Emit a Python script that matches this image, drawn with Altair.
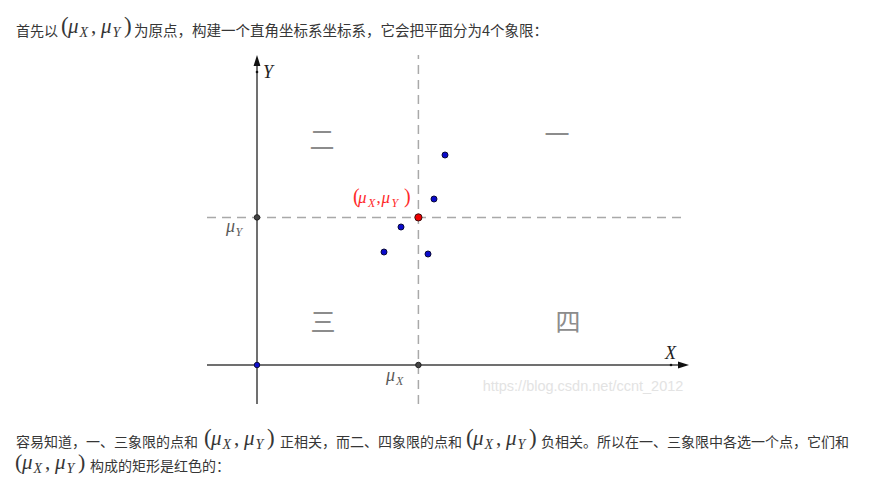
import altair as alt
import pandas as pd

# ---------------- data (diagram units) ----------------
blue_x = [9.4, 8.85, 7.2, 6.35, 8.55]
blue_y = [10.5, 8.3, 6.9, 5.65, 5.55]
mu_x = sum(blue_x) / len(blue_x)
mu_y = sum(blue_y) / len(blue_y)

quadrant_names = ["一", "二", "三", "四"]
para_top = ["首先以", "为原点，构建一个直角坐标系坐标系，它会把平面分为4个象限："]
para_l1 = ["容易知道，一、三象限的点和", "正相关，而二、四象限的点和", "负相关。所以在一、三象限中各选一个点，它们和"]
para_l2 = ["构成的矩形是红色的："]
watermark = "https://blog.csdn.net/ccnt_2012"

# ---------------- layout ----------------
W, H = 871, 494
PX0, PY0, UNIT = 257, 365, 20.0


def px2x(px):
    return (px - PX0) / UNIT


def py2y(py):
    return (PY0 - py) / UNIT


xs = alt.Scale(domain=[px2x(0), px2x(W)], nice=False, zero=False)
ys = alt.Scale(domain=[py2y(H), py2y(0)], nice=False, zero=False)

X_MIN, X_MAX = px2x(207), px2x(689)
Y_MIN, Y_MAX = py2y(404), py2y(55)


def XY(xf="x", yf="y"):
    return dict(x=alt.X(f"{xf}:Q", scale=xs, axis=None),
                y=alt.Y(f"{yf}:Q", scale=ys, axis=None))


# dashed mean lines
dash_df = pd.DataFrame([
    {"x": mu_x, "x2": mu_x, "y": Y_MIN, "y2": Y_MAX},
    {"x": X_MIN, "x2": px2x(685), "y": mu_y, "y2": mu_y},
])
dashed = alt.Chart(dash_df).mark_rule(color="#a9a9a9", strokeWidth=1.5, strokeDash=[9, 6]).encode(
    **XY(), x2="x2:Q", y2="y2:Q")

# axes
axes_df = pd.DataFrame([
    {"x": X_MIN, "x2": X_MAX - 0.3, "y": 0.0, "y2": 0.0},
    {"x": 0.0, "x2": 0.0, "y": Y_MIN, "y2": Y_MAX - 0.3},
])
axes = alt.Chart(axes_df).mark_rule(color="#707070", strokeWidth=2).encode(
    **XY(), x2="x2:Q", y2="y2:Q")

arrow_df = pd.DataFrame([
    {"x": X_MAX, "y": 0.0, "a": 90},
    {"x": 0.0, "y": Y_MAX, "a": 0},
])
arrows = alt.Chart(arrow_df).mark_point(
    shape="M0,0L0.62,2L-0.62,2Z", filled=True, color="#111111", opacity=1, size=121
).encode(**XY(), angle=alt.Angle("a:Q", scale=None))

enddot_df = pd.DataFrame([{"x": px2x(671), "y": 0.0}, {"x": 0.0, "y": py2y(72)}])
enddots = alt.Chart(enddot_df).mark_point(filled=True, color="#111111", opacity=1, size=7).encode(**XY())

gray_df = pd.DataFrame([{"x": mu_x, "y": 0.0}, {"x": 0.0, "y": mu_y}])
grays = alt.Chart(gray_df).mark_point(
    filled=True, fill="#444444", stroke="#222222", strokeWidth=1, opacity=1, size=30
).encode(**XY())

origin_df = pd.DataFrame([{"x": 0.0, "y": 0.0}])
origin = alt.Chart(origin_df).mark_point(
    filled=True, fill="#1010d0", stroke="#101040", strokeWidth=1, opacity=1, size=30
).encode(**XY())

blue_df = pd.DataFrame({"x": blue_x, "y": blue_y})
blues = alt.Chart(blue_df).mark_point(
    filled=True, fill="#0a0acc", stroke="#0a0a3a", strokeWidth=1, opacity=1, size=36
).encode(**XY())

red_df = pd.DataFrame([{"x": mu_x, "y": mu_y}])
red = alt.Chart(red_df).mark_point(
    filled=True, fill="#ee0000", stroke="#3a1010", strokeWidth=1, opacity=1, size=52
).encode(**XY())

# ---------------- texts ----------------
pieces = []
SANS = "Noto Sans CJK SC"
SERIF = "Liberation Serif"


def add(px, py, text, font, style, fs, color, align="left", baseline="alphabetic"):
    pieces.append(dict(x=px2x(px), y=py2y(py), t=text, font=font, style=style,
                       fs=fs, c=color, align=align, baseline=baseline))


def math(x0, base, sp, sm, ss, drop, offs, color):
    o = offs
    add(x0 + o[0], base, "(", SERIF, "normal", sp, color)
    add(x0 + o[1], base, "μ", SERIF, "italic", sm, color)
    add(x0 + o[2], base + drop, "X", SERIF, "italic", ss, color)
    add(x0 + o[3], base, ",", SERIF, "normal", sm, color)
    add(x0 + o[4], base, "μ", SERIF, "italic", sm, color)
    add(x0 + o[5], base + drop, "Y", SERIF, "italic", ss, color)
    add(x0 + o[6], base, ")", SERIF, "normal", sp, color)


TXT = "#363636"
OFF = [0, 7, 18.5, 30, 40, 51.5, 63]

# top line
add(16, 35.5, para_top[0], SANS, "normal", 14, TXT)
math(61, 33, 23, 21, 14, 4, OFF, TXT)
add(134, 35.5, para_top[1], SANS, "normal", 14.5, TXT)

# bottom line 1
b1 = 447
add(16, b1, para_l1[0], SANS, "normal", 14, TXT)
math(204, b1 - 2.5, 23, 21, 14, 4, OFF, TXT)
add(280, b1, para_l1[1], SANS, "normal", 14, TXT)
math(466, b1 - 2.5, 23, 21, 14, 4, OFF, TXT)
add(541, b1, para_l1[2], SANS, "normal", 14, TXT)

# bottom line 2
b2 = 471
math(15, b2 - 2, 22, 21, 14, 4, OFF, TXT)
add(90, b2, para_l2[0], SANS, "normal", 14, TXT)

# diagram labels
add(263, 78, "Y", SERIF, "italic", 18, "#222222")
add(665, 359, "X", SERIF, "italic", 18, "#222222")
LBL = "#5a5a5a"
add(226, 232, "μ", SERIF, "italic", 18, LBL)
add(235.5, 236, "Y", SERIF, "italic", 12, LBL)
add(386, 380.5, "μ", SERIF, "italic", 18, LBL)
add(396, 384.5, "X", SERIF, "italic", 12, LBL)
math(353, 203, 20, 17, 12, 3.5, [0, 5, 15, 23.5, 28.5, 38.5, 51], "#ff2a2a")

# quadrant labels
QC = "#8c8c8c"
add(557, 143.5, quadrant_names[0], SANS, "normal", 25, QC, align="center")
add(322, 149, quadrant_names[1], SANS, "normal", 25, QC, align="center")
add(323, 331, quadrant_names[2], SANS, "normal", 25, QC, align="center")
add(568, 331, quadrant_names[3], SANS, "normal", 25, QC, align="center")

# watermark
add(583, 387, watermark, "Liberation Sans", "normal", 14.5, "#e3e3e3", align="center", baseline="middle")

tdf = pd.DataFrame(pieces)
text_layers = []
for (font, style, align, baseline), g in tdf.groupby(["font", "style", "align", "baseline"]):
    text_layers.append(
        alt.Chart(g).mark_text(font=font, fontStyle=style, align=align, baseline=baseline).encode(
            **XY(), text="t:N",
            size=alt.Size("fs:Q", scale=None, legend=None),
            color=alt.Color("c:N", scale=None, legend=None),
        )
    )

chart = alt.layer(dashed, axes, arrows, enddots, grays, origin, blues, red, *text_layers).properties(
    width=W, height=H, padding=0, autosize="none", background="white"
).configure_view(stroke=None)

chart.save("out.html", embed_options={"renderer": "svg", "actions": False})
